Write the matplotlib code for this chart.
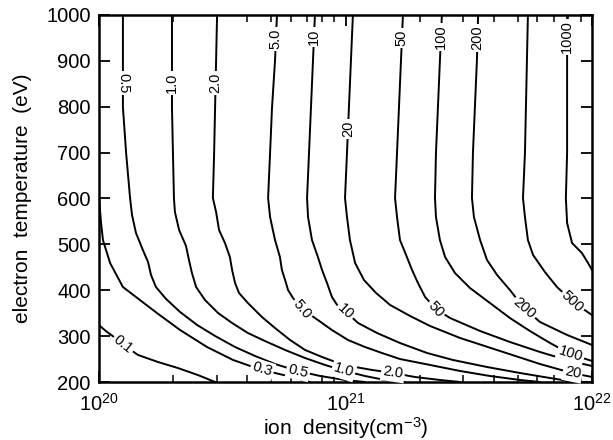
import numpy as np
import matplotlib
matplotlib.use("Agg")
import matplotlib.pyplot as plt
from matplotlib.ticker import FixedLocator, LogLocator, NullFormatter

plt.rcParams['font.family'] = ['Liberation Sans', 'DejaVu Sans']
plt.rcParams['mathtext.fontset'] = 'custom'
plt.rcParams['mathtext.rm'] = 'Liberation Sans'
plt.rcParams['mathtext.it'] = 'Liberation Sans:italic'
plt.rcParams['mathtext.bf'] = 'Liberation Sans:bold'

# ---- contour traces: log10(ion density), electron temperature (eV)
c0p1_logn = [20.000, 20.028, 20.077, 20.118, 20.158, 20.239, 20.320, 20.402, 20.471]
c0p1_T = [324.0, 311.0, 291.6, 274.0, 259.0, 243.6, 230.5, 215.0, 200.0]

c0p3_logn = [20.000, 20.004, 20.008, 20.016, 20.045, 20.097, 20.166, 20.235, 20.329, 20.438,
             20.544, 20.613, 20.661, 20.714, 20.783, 20.856]
c0p3_T = [607.6, 574.9, 548.8, 509.5, 459.4, 407.1, 378.7, 350.4, 313.3, 276.3,
          248.0, 234.9, 228.3, 219.6, 210.9, 200.0]

c0p5_logn = [20.097, 20.097, 20.110, 20.126, 20.134, 20.150, 20.178, 20.199, 20.211, 20.231,
             20.272, 20.329, 20.398, 20.471, 20.552, 20.633, 20.714, 20.807, 20.897, 20.998, 21.079]
c0p5_T = [1000.0, 799.5, 699.2, 601.1, 564.0, 524.8, 487.7, 461.6, 433.2, 407.1,
          381.0, 352.6, 324.3, 300.3, 276.3, 256.7, 239.2, 224.0, 213.1, 204.4, 200.0]

c1_logn = [20.296, 20.296, 20.300, 20.304, 20.308, 20.325, 20.353, 20.365, 20.377, 20.394,
           20.430, 20.483, 20.540, 20.604, 20.673, 20.755, 20.836, 20.917, 20.998, 21.079,
           21.160, 21.241]
c1_T = [1000.0, 799.5, 699.2, 601.1, 570.6, 531.3, 496.5, 465.9, 437.6, 407.1,
        378.7, 350.4, 328.6, 306.8, 289.4, 269.8, 252.3, 237.1, 224.0, 213.1,
        204.4, 200.0]

c2_logn = [20.479, 20.471, 20.467, 20.462, 20.475, 20.487, 20.511, 20.531, 20.540, 20.552,
           20.568, 20.604, 20.661, 20.714, 20.775, 20.836, 20.905, 20.970, 21.039, 21.108,
           21.193, 21.282, 21.383, 21.465]
c2_T = [1000.0, 799.5, 699.2, 601.1, 570.6, 531.3, 503.0, 472.5, 444.1, 415.8,
        394.0, 372.2, 341.7, 317.7, 291.6, 269.8, 254.5, 241.4, 232.7, 226.2,
        219.6, 210.9, 204.4, 200.0]

c5_logn = [20.722, 20.714, 20.702, 20.694, 20.686, 20.694, 20.714, 20.734, 20.742, 20.755,
           20.767, 20.787, 20.824, 20.888, 20.945, 21.010, 21.079, 21.148, 21.221, 21.343,
           21.465, 21.586, 21.708, 21.789]
c5_T = [1000.0, 899.8, 799.5, 699.2, 601.1, 559.7, 509.5, 472.5, 444.1, 422.3,
        400.5, 383.1, 359.1, 335.1, 313.3, 291.6, 276.3, 263.2, 250.1, 237.1,
        224.0, 213.1, 204.4, 200.0]

c10_logn = [20.876, 20.868, 20.860, 20.852, 20.844, 20.848, 20.864, 20.888, 20.905, 20.925,
            20.945, 20.966, 20.998, 21.051, 21.128, 21.221, 21.331, 21.436, 21.574, 21.708,
            21.830, 21.931]
c10_T = [1000.0, 899.8, 799.5, 699.2, 601.1, 559.7, 509.5, 472.5, 444.1, 415.8,
         385.3, 367.9, 354.8, 328.6, 306.8, 285.0, 263.2, 248.0, 232.7, 219.6,
         208.7, 200.0]

c20_logn = [21.030, 21.022, 21.014, 21.006, 20.998, 21.006, 21.018, 21.039, 21.075, 21.124,
            21.181, 21.262, 21.343, 21.465, 21.627, 21.789, 21.919, 22.000]
c20_T = [1000.0, 899.8, 799.5, 699.2, 601.1, 559.7, 509.5, 459.4, 422.3, 394.0,
         367.9, 343.9, 322.1, 295.9, 267.6, 239.2, 219.6, 210.9]

c50_logn = [21.233, 21.225, 21.217, 21.209, 21.201, 21.209, 21.221, 21.249, 21.270, 21.294,
            21.323, 21.367, 21.424, 21.546, 21.667, 21.789, 21.911, 22.000]
c50_T = [1000.0, 899.8, 799.5, 699.2, 601.1, 559.7, 509.5, 472.5, 444.1, 415.8,
         385.3, 359.1, 339.5, 311.2, 287.2, 265.4, 245.8, 234.9]

c100_logn = [21.391, 21.383, 21.375, 21.367, 21.363, 21.367, 21.383, 21.404, 21.444, 21.505,
             21.586, 21.667, 21.748, 21.830, 21.911, 22.000]
c100_T = [1000.0, 899.8, 799.5, 699.2, 601.1, 559.7, 509.5, 472.5, 437.6, 404.9,
          372.2, 339.5, 311.2, 285.0, 261.0, 245.8]

c200_logn = [21.538, 21.533, 21.525, 21.517, 21.513, 21.521, 21.546, 21.574, 21.615, 21.667,
             21.724, 21.789, 21.899, 22.000]
c200_T = [1000.0, 899.8, 799.5, 699.2, 601.1, 559.7, 509.5, 466.0, 433.2, 400.5,
          361.3, 330.8, 302.5, 280.7]

c500_logn = [21.740, 21.736, 21.732, 21.728, 21.720, 21.728, 21.740, 21.761, 21.809, 21.858,
             21.923, 22.000]
c500_T = [1000.0, 899.8, 799.5, 699.2, 601.1, 559.7, 509.5, 476.8, 439.8, 407.1,
          374.4, 346.0]

c1000_logn = [21.899, 21.899, 21.899, 21.899, 21.894, 21.899, 21.919, 21.959, 21.984, 22.000]
c1000_T = [1000.0, 899.8, 799.5, 699.2, 601.1, 546.6, 503.0, 481.2, 459.4, 444.1]

# contour label text, approx. location (log10 n, T), fixed rotation (None = follow line)
label_text = ["0.1", "0.3", "0.5", "1.0", "2.0", "5.0", "10", "50", "200", "500", "100", "20",
              "0.5", "1.0", "2.0", "5.0", "10", "20", "50", "100", "200", "1000"]
label_level = ["0.1", "0.3", "0.5", "1.0", "2.0", "5.0", "10", "50", "200", "500", "100", "20",
               "0.5", "1.0", "2.0", "5.0", "10", "20", "50", "100", "200", "1000"]
label_logn = [20.093, 20.661, 20.807, 20.990, 21.193, 20.824, 20.998, 21.367, 21.728, 21.919, 21.911, 21.919,
              20.097, 20.296, 20.471, 20.714, 20.872, 21.006, 21.229, 21.387, 21.533, 21.899]
label_T = [278.5, 226.2, 221.8, 221.8, 221.8, 359.1, 352.6, 359.1, 361.3, 374.4, 256.7, 213.1,
           851.8, 851.8, 851.8, 947.7, 952.0, 751.5, 949.9, 952.0, 949.9, 952.0]
label_rot = [None] * 12 + [-90, 90, 90, 90, 90, 90, 90, 90, 90, 90]

xticks_major = [1e20, 1e21, 1e22]
xtick_labels = [r"$\mathregular{10^{20}}$", r"$\mathregular{10^{21}}$", r"$\mathregular{10^{22}}$"]
yticks = [200, 300, 400, 500, 600, 700, 800, 900, 1000]

contours = {
    "0.1": (c0p1_logn, c0p1_T), "0.3": (c0p3_logn, c0p3_T), "0.5": (c0p5_logn, c0p5_T),
    "1.0": (c1_logn, c1_T), "2.0": (c2_logn, c2_T), "5.0": (c5_logn, c5_T),
    "10": (c10_logn, c10_T), "20": (c20_logn, c20_T), "50": (c50_logn, c50_T),
    "100": (c100_logn, c100_T), "200": (c200_logn, c200_T), "500": (c500_logn, c500_T),
    "1000": (c1000_logn, c1000_T),
}

fig = plt.figure(figsize=(6.13, 4.40), dpi=100)
ax = fig.add_axes([99 / 613, 58 / 440, 493 / 613, 367 / 440])
ax.set_xscale('log')
ax.set_xlim(1e20, 1e22)
ax.set_ylim(200, 1000)

for key, (ln, tt) in contours.items():
    ax.plot(10 ** np.asarray(ln), tt, color='black', lw=1.4, solid_joinstyle='round',
            solid_capstyle='round', zorder=2)

fig.canvas.draw()


def place_label(text, level, lx, ly, rot):
    ln, tt = contours[level]
    pts = ax.transData.transform(np.column_stack([10 ** np.asarray(ln), tt]))
    p = ax.transData.transform((10 ** lx, ly))
    best = None
    for i in range(len(pts) - 1):
        a, b = pts[i], pts[i + 1]
        ab = b - a
        t = np.clip(np.dot(p - a, ab) / np.dot(ab, ab), 0, 1)
        q = a + t * ab
        d = np.hypot(*(p - q))
        if best is None or d < best[0]:
            best = (d, q, ab)
    q, ab = best[1], best[2]
    ang = np.degrees(np.arctan2(ab[1], ab[0]))
    if ang > 90:
        ang -= 180
    if ang < -90:
        ang += 180
    if rot is not None:
        ang = rot
    xd, yd = ax.transData.inverted().transform(q)
    ax.text(xd, yd, text, rotation=ang, rotation_mode='anchor', ha='center', va='center',
            fontsize=10.5, zorder=3,
            bbox=dict(boxstyle='square,pad=0.12', fc='white', ec='none'))


for txt, lev, lx, ly, r in zip(label_text, label_level, label_logn, label_T, label_rot):
    place_label(txt, lev, lx, ly, r)

ax.xaxis.set_major_locator(FixedLocator(xticks_major))
ax.set_xticklabels(xtick_labels)
ax.xaxis.set_minor_locator(LogLocator(base=10, subs=np.arange(2, 10)))
ax.xaxis.set_minor_formatter(NullFormatter())
ax.yaxis.set_major_locator(FixedLocator(yticks))
ax.set_yticklabels([str(v) for v in yticks])

ax.tick_params(which='both', direction='in', top=True, right=True)
ax.tick_params(which='major', length=8, width=1.3, labelsize=14.5, pad=6)
ax.tick_params(which='minor', length=5, width=1.1)
ax.tick_params(axis='x', which='major', pad=8)
for s in ax.spines.values():
    s.set_linewidth(1.8)

ax.set_xlabel(r"ion  density(cm$\mathregular{^{-3}}$)", fontsize=15, labelpad=0)
ax.set_ylabel("electron  temperature  (eV)", fontsize=15, labelpad=10)

fig.savefig("out.png", dpi=100)
